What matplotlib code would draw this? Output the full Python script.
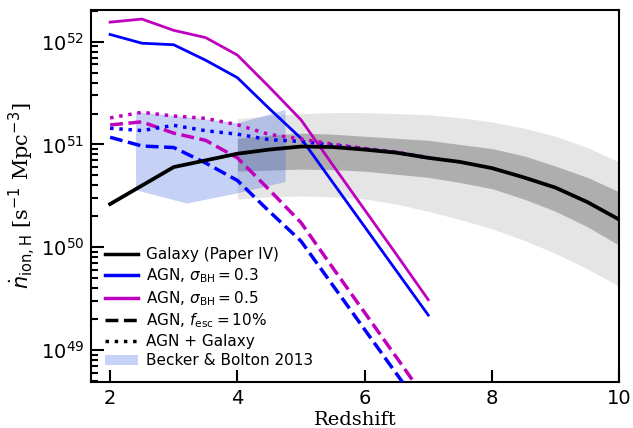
import matplotlib
matplotlib.use("Agg")
import matplotlib.pyplot as plt
import numpy as np

plt.rcParams['mathtext.fontset'] = 'dejavusans'

# AGN models (log10 of ndot_ion,H in s^-1 Mpc^-3)
z_agn = [2, 2.5, 3, 3.5, 4, 4.5, 5, 5.5, 6, 6.5, 7]
agn_03 = [52.07, 51.985, 51.97, 51.82, 51.65, 51.35, 51.06, 50.63, 50.20, 49.77, 49.34]
agn_05 = [52.19, 52.22, 52.11, 52.04, 51.87, 51.56, 51.24, 50.80, 50.365, 49.93, 49.49]
agn_03_esc = [51.07, 50.985, 50.97, 50.82, 50.65, 50.35, 50.06, 49.63, 49.20, 48.77, 48.34]
agn_05_esc = [51.19, 51.22, 51.11, 51.04, 50.87, 50.56, 50.24, 49.80, 49.365, 48.93, 48.49]
agn_03_gal = [51.158, 51.135, 51.186, 51.134, 51.100, 51.047, 51.029, 50.994, 50.958, 50.923, 50.871]
agn_05_gal = [51.258, 51.313, 51.277, 51.254, 51.192, 51.098, 51.053, 51.003, 50.961, 50.925, 50.872]

# galaxy model (Paper IV)
z_gal = [2, 2.5, 3, 3.5, 4, 4.5, 5, 5.5, 6, 6.5, 7, 7.5, 8, 8.5, 9, 9.5, 10]
gal = [50.42, 50.60, 50.78, 50.845, 50.91, 50.95, 50.98, 50.975, 50.95, 50.92,
       50.87, 50.83, 50.77, 50.68, 50.58, 50.44, 50.27]

# scatter bands of the galaxy model
z_band = [4, 4.5, 5, 5.5, 6, 6.5, 7, 7.5, 8, 8.5, 9, 9.5, 10]
dark_hi = [51.06, 51.09, 51.11, 51.10, 51.08, 51.06, 51.04, 51.00, 50.96, 50.89, 50.79, 50.68, 50.54]
dark_lo = [50.74, 50.75, 50.76, 50.755, 50.74, 50.71, 50.68, 50.63, 50.57, 50.47, 50.35, 50.20, 50.02]
light_hi = [51.25, 51.28, 51.30, 51.31, 51.31, 51.30, 51.29, 51.26, 51.22, 51.16, 51.08, 50.97, 50.83]
light_lo = [50.47, 50.49, 50.50, 50.49, 50.47, 50.42, 50.35, 50.27, 50.18, 50.07, 49.94, 49.79, 49.62]

# Becker & Bolton 2013
z_bb = [2.4, 3.2, 4.0, 4.75]
bb_lo = [50.56, 50.43, 50.53, 50.64]
bb_hi = [51.32, 51.27, 51.21, 51.34]

fig = plt.figure(figsize=(6.33, 4.28), dpi=100)
ax = fig.add_axes([0.1438, 0.1075, 0.8342, 0.8691])

ax.fill_between(z_band, 10**np.array(light_lo), 10**np.array(light_hi), color='#e5e5e5', lw=0, zorder=1)
ax.fill_between(z_band, 10**np.array(dark_lo), 10**np.array(dark_hi), color='#aeaeae', lw=0, zorder=1)
ax.fill_between(z_bb, 10**np.array(bb_lo), 10**np.array(bb_hi), color='royalblue', alpha=0.3, lw=0, zorder=2)

ax.plot(z_agn, 10**np.array(agn_03), color='b', lw=2, zorder=3)
ax.plot(z_agn, 10**np.array(agn_05), color='m', lw=2, zorder=3)
ax.plot(z_agn, 10**np.array(agn_03_esc), color='b', lw=2.5, ls='--', zorder=3)
ax.plot(z_agn, 10**np.array(agn_05_esc), color='m', lw=2.5, ls='--', zorder=3)
ax.plot(z_agn, 10**np.array(agn_03_gal), color='b', lw=2.5, ls=':', zorder=3)
ax.plot(z_agn, 10**np.array(agn_05_gal), color='m', lw=2.5, ls=':', zorder=3)
ax.plot(z_gal, 10**np.array(gal), color='k', lw=2.7, zorder=4)

# legend proxies
handles = [
    plt.Line2D([], [], color='k', lw=2.5),
    plt.Line2D([], [], color='b', lw=2.5),
    plt.Line2D([], [], color='m', lw=2.5),
    plt.Line2D([], [], color='k', lw=2.5, ls='--'),
    plt.Line2D([], [], color='k', lw=2.5, ls=':'),
    plt.Rectangle((0, 0), 1, 1, color='royalblue', alpha=0.3, lw=0),
]
labels = ['Galaxy (Paper IV)', r'AGN, $\sigma_{\rm BH}=0.3$', r'AGN, $\sigma_{\rm BH}=0.5$',
          r'AGN, $f_{\rm esc}=10\%$', 'AGN + Galaxy', 'Becker & Bolton 2013']
ax.legend(handles, labels, loc='lower left', frameon=False, fontsize=11,
          handlelength=2.2, handletextpad=0.5, labelspacing=0.26,
          borderaxespad=0.5, bbox_to_anchor=(0.0, 0.0))

ax.set_yscale('log')
ax.set_xlim(1.7, 10)
ax.set_ylim(10**48.689, 10**52.308)
ax.set_xticks([2, 4, 6, 8, 10])

ax.tick_params(which='both', direction='in', labelsize=14, width=1.5)
ax.tick_params(which='major', length=9, pad=5)
ax.tick_params(which='minor', length=5)
ax.tick_params(axis='x', which='minor', bottom=False)
for sp in ax.spines.values():
    sp.set_linewidth(1.5)

ax.set_xlabel('Redshift', family='serif', fontsize=14, labelpad=2)
ax.set_ylabel(r'$\dot{n}_{\rm ion,H}$ [s$^{-1}$ Mpc$^{-3}$]', family='serif', fontsize=15, labelpad=2)

fig.savefig('out.png', dpi=100)
